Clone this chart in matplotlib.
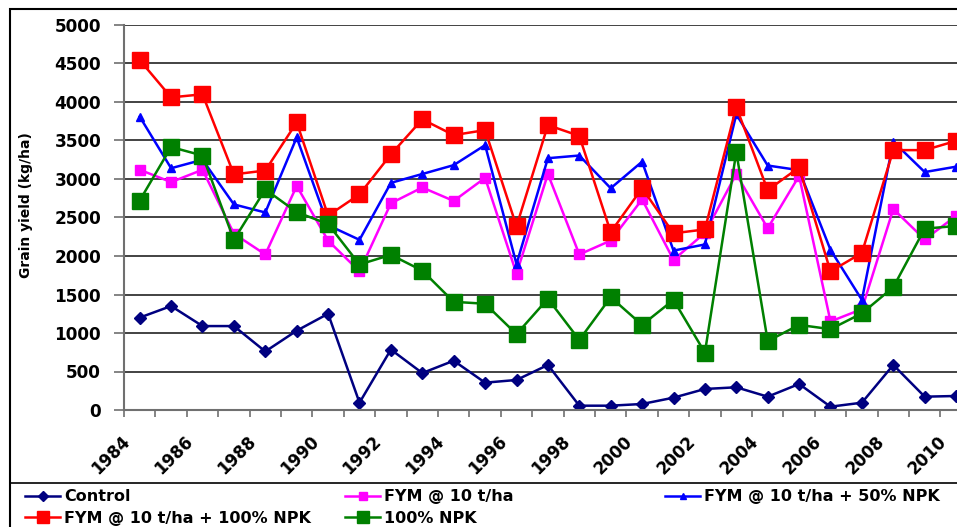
import matplotlib.pyplot as plt
import matplotlib.transforms as mtransforms
import numpy as np

plt.rcParams['font.family'] = 'DejaVu Sans'
plt.rcParams['font.weight'] = 'bold'

# Years 1984-2010
years = list(range(1984, 2011))

control = [1200, 1350, 1090, 1090, 760, 1030, 1250, 95, 785, 480, 640, 355, 390,
           585, 56, 56, 78, 160, 273, 295, 173, 338, 43, 95, 585, 173, 182]
fym = [3120, 2960, 3120, 2290, 2020, 2910, 2200, 1800, 2685, 2890, 2715, 3015, 1770,
       3065, 2020, 2200, 2735, 1950, 2300, 3065, 2360, 3040, 1150, 1310, 2610, 2215, 2520]
fym_50 = [3810, 3140, 3250, 2670, 2565, 3540, 2400, 2210, 2950, 3065, 3180, 3440, 1895,
          3270, 3305, 2880, 3225, 2070, 2150, 3840, 3175, 3115, 2080, 1430, 3485, 3090, 3160]
fym_100 = [4545, 4060, 4100, 3060, 3110, 3735, 2525, 2800, 3320, 3775, 3570, 3635, 2385,
           3700, 3560, 2310, 2880, 2295, 2345, 3935, 2855, 3150, 1800, 2040, 3375, 3375, 3495]
npk_100 = [2720, 3415, 3305, 2210, 2865, 2570, 2415, 1890, 2015, 1810, 1405, 1380, 985,
           1445, 910, 1465, 1105, 1430, 745, 3350, 895, 1105, 1050, 1255, 1595, 2355, 2390]

labels = ['Control', 'FYM @ 10 t/ha', 'FYM @ 10 t/ha + 50% NPK',
          'FYM @ 10 t/ha + 100% NPK', '100% NPK']

fig = plt.figure(figsize=(9.57, 5.27), dpi=100)
ax = fig.add_axes([124 / 957, 1 - 410 / 527, 847.8 / 957, 385 / 527])

x = np.arange(len(years))
l1, = ax.plot(x, control, color='#000080', marker='D', ms=6.5, lw=1.8, label=labels[0])
l2, = ax.plot(x, fym, color='#FF00FF', marker='s', ms=7, lw=1.8, label=labels[1])
l3, = ax.plot(x, fym_50, color='#0000FF', marker='^', ms=5.5, lw=1.8, label=labels[2])
l4, = ax.plot(x, fym_100, color='#FF0000', marker='s', ms=11, lw=1.8, label=labels[3])
l5, = ax.plot(x, npk_100, color='#008000', marker='s', ms=11, lw=1.8, label=labels[4])

ax.set_xlim(-0.5, len(years) - 0.5)
ax.set_ylim(0, 5000)
ax.set_yticks(np.arange(0, 5001, 500))
ax.set_yticklabels([str(v) for v in range(0, 5001, 500)], fontsize=12.2, fontweight='bold')
ax.yaxis.grid(True, color='#222222', lw=1.2)
ax.set_axisbelow(True)

ax.set_xticks(x[::2])
ax.set_xticklabels([str(y) for y in years[::2]], rotation=45, ha='right', va='center',
                   rotation_mode='anchor', fontsize=12, fontweight='bold')
ax.set_xticks(np.arange(-0.5, len(years), 1), minor=True)
ax.tick_params(axis='x', which='major', length=0, pad=21)
ax.tick_params(axis='x', which='minor', length=5, width=1.2, color='#707070', direction='out')
ax.tick_params(axis='y', length=7.5, width=1.2, color='#707070', pad=9)
offset = mtransforms.ScaledTranslation(-12 / 100, 0, fig.dpi_scale_trans)
for lab in ax.get_xticklabels():
    lab.set_transform(lab.get_transform() + offset)

for s in ['top', 'right']:
    ax.spines[s].set_visible(False)
for s in ['left', 'bottom']:
    ax.spines[s].set_color('#707070')
    ax.spines[s].set_linewidth(1.5)

fig.text(26 / 957, 1 - 205 / 527, 'Grain yield (kg/ha)', rotation=90, ha='center',
         va='center', fontsize=10, fontweight='bold')

# outer chart border and legend box
fig.add_artist(plt.Rectangle((10 / 957, -0.05), 1.1, 1 - 9 / 527 + 0.05,
                             transform=fig.transFigure, fill=False, lw=1.5, color='black'))
fig.add_artist(plt.Rectangle((10 / 957, -0.05), 1.1, 1 - 483 / 527 + 0.05,
                             transform=fig.transFigure, fill=False, lw=1.2, color='black'))

cols = [([l1, l4], 22), ([l2, l5], 342), ([l3], 662)]
for handles, px in cols:
    leg = fig.legend(handles=handles, loc='upper left',
                     bbox_to_anchor=(px / 957, 1 - 486 / 527), frameon=False,
                     fontsize=11.5, handlelength=2.2, handletextpad=0.25,
                     labelspacing=0.42, markerscale=0.75, borderaxespad=0,
                     borderpad=0.2)
    for t in leg.get_texts():
        t.set_fontweight('bold')

fig.savefig('out.png', dpi=100)
